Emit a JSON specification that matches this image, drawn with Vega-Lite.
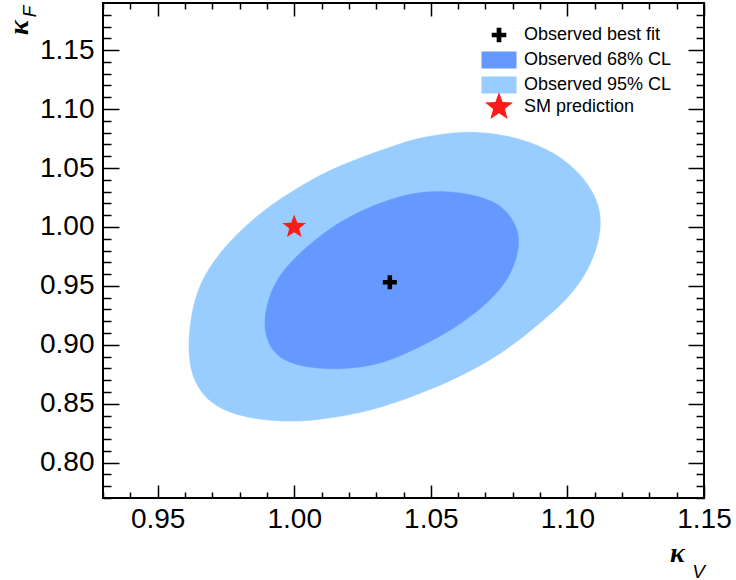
{
  "$schema": "https://vega.github.io/schema/vega-lite/v6.json",
  "width": 601,
  "height": 495,
  "autosize": "none",
  "padding": {"left": 103, "top": 3, "right": 32, "bottom": 82},
  "background": "white",
  "config": {
    "font": "Liberation Sans",
    "view": {"stroke": "black", "strokeWidth": 2},
    "axis": {"grid": false, "domain": false, "labelColor": "black", "titleColor": "black", "tickColor": "black", "tickWidth": 1.5},
    "legend": {"title": null, "padding": 0, "labelFontSize": 18, "labelFont": "Liberation Sans", "labelColor": "black", "labelOffset": 15, "symbolSize": 400, "symbolStrokeWidth": 0, "symbolOpacity": 1, "labelLimit": 300}
  },
  "datasets": {
    "outer": [
      {"kv": 0.9609, "kf": 0.9014, "i": 1},
      {"kv": 0.9631, "kf": 0.9381, "i": 2},
      {"kv": 0.9680, "kf": 0.9636, "i": 3},
      {"kv": 0.9766, "kf": 0.9891, "i": 4},
      {"kv": 0.9887, "kf": 1.0145, "i": 5},
      {"kv": 1.0009, "kf": 1.0330, "i": 6},
      {"kv": 1.0131, "kf": 1.0485, "i": 7},
      {"kv": 1.0253, "kf": 1.0598, "i": 8},
      {"kv": 1.0375, "kf": 1.0697, "i": 9},
      {"kv": 1.0445, "kf": 1.0750, "i": 10},
      {"kv": 1.0558, "kf": 1.0796, "i": 11},
      {"kv": 1.0680, "kf": 1.0812, "i": 12},
      {"kv": 1.0826, "kf": 1.0756, "i": 13},
      {"kv": 1.0960, "kf": 1.0630, "i": 14},
      {"kv": 1.1058, "kf": 1.0430, "i": 15},
      {"kv": 1.1110, "kf": 1.0230, "i": 16},
      {"kv": 1.1124, "kf": 1.0060, "i": 17},
      {"kv": 1.1115, "kf": 0.9863, "i": 18},
      {"kv": 1.1072, "kf": 0.9608, "i": 19},
      {"kv": 1.0999, "kf": 0.9381, "i": 20},
      {"kv": 1.0899, "kf": 0.9182, "i": 21},
      {"kv": 1.0777, "kf": 0.8955, "i": 22},
      {"kv": 1.0655, "kf": 0.8785, "i": 23},
      {"kv": 1.0497, "kf": 0.8615, "i": 24},
      {"kv": 1.0314, "kf": 0.8460, "i": 25},
      {"kv": 1.0168, "kf": 0.8388, "i": 26},
      {"kv": 1.0022, "kf": 0.8345, "i": 27},
      {"kv": 0.9887, "kf": 0.8358, "i": 28},
      {"kv": 0.9766, "kf": 0.8415, "i": 29},
      {"kv": 0.9678, "kf": 0.8528, "i": 30},
      {"kv": 0.9622, "kf": 0.8730, "i": 31}
    ],
    "inner": [
      {"kv": 0.9888, "kf": 0.9212, "i": 1},
      {"kv": 0.9910, "kf": 0.9438, "i": 2},
      {"kv": 0.9958, "kf": 0.9636, "i": 3},
      {"kv": 1.0046, "kf": 0.9836, "i": 4},
      {"kv": 1.0156, "kf": 1.0034, "i": 5},
      {"kv": 1.0278, "kf": 1.0175, "i": 6},
      {"kv": 1.0387, "kf": 1.0260, "i": 7},
      {"kv": 1.0440, "kf": 1.0287, "i": 8},
      {"kv": 1.0546, "kf": 1.0311, "i": 9},
      {"kv": 1.0680, "kf": 1.0266, "i": 10},
      {"kv": 1.0767, "kf": 1.0175, "i": 11},
      {"kv": 1.0816, "kf": 1.0004, "i": 12},
      {"kv": 1.0825, "kf": 0.9863, "i": 13},
      {"kv": 1.0810, "kf": 0.9693, "i": 14},
      {"kv": 1.0767, "kf": 0.9494, "i": 15},
      {"kv": 1.0680, "kf": 0.9294, "i": 16},
      {"kv": 1.0558, "kf": 0.9097, "i": 17},
      {"kv": 1.0436, "kf": 0.8955, "i": 18},
      {"kv": 1.0314, "kf": 0.8828, "i": 19},
      {"kv": 1.0156, "kf": 0.8785, "i": 20},
      {"kv": 1.0022, "kf": 0.8813, "i": 21},
      {"kv": 0.9934, "kf": 0.8898, "i": 22},
      {"kv": 0.9898, "kf": 0.9042, "i": 23}
    ],
    "bestfit": [{"kv": 1.035, "kf": 0.953, "item": "Observed best fit"}],
    "sm": [{"kv": 1.0, "kf": 1.0, "item": "SM prediction"}]
  },
  "resolve": {"axis": {"x": "independent", "y": "independent"}, "scale": {"color": "independent", "shape": "independent"}},
  "layer": [
    {
      "data": {"name": "outer"},
      "mark": {"type": "line", "interpolate": "basis-closed", "fill": "#99ccff", "stroke": "#99ccff", "strokeWidth": 0.5},
      "encoding": {
        "x": {"field": "kv", "type": "quantitative", "scale": {"domain": [0.93, 1.15], "nice": false, "zero": false},
          "axis": {"orient": "bottom", "values": [0.95, 1.0, 1.05, 1.1, 1.15], "format": ".2f", "ticks": false, "labelFontSize": 28, "labelPadding": 7, "labelFlush": false, "labelOverlap": false,
            "title": "κ", "titleFont": "Liberation Serif", "titleFontSize": 28, "titleFontStyle": "italic", "titleFontWeight": "bold", "titleX": 574, "titleY": 63, "titleAlign": "center", "titleBaseline": "alphabetic"}},
        "y": {"field": "kf", "type": "quantitative", "scale": {"domain": [0.77, 1.19], "nice": false, "zero": false},
          "axis": {"orient": "left", "values": [0.8, 0.85, 0.9, 0.95, 1.0, 1.05, 1.1, 1.15], "format": ".2f", "ticks": false, "labelFontSize": 28, "labelPadding": 9, "labelFlush": false, "labelOverlap": false,
            "title": "κ", "titleFont": "Liberation Serif", "titleFontSize": 28, "titleFontStyle": "italic", "titleFontWeight": "bold", "titleAngle": -90, "titleX": -76, "titleY": 24, "titleAlign": "center", "titleBaseline": "alphabetic"}},
        "order": {"field": "i", "type": "quantitative"}
      }
    },
    {
      "data": {"name": "inner"},
      "mark": {"type": "line", "interpolate": "basis-closed", "fill": "#6699ff", "stroke": "#6699ff", "strokeWidth": 0.5},
      "encoding": {
        "x": {"field": "kv", "type": "quantitative", "scale": {"domain": [0.93, 1.15], "nice": false, "zero": false},
          "axis": {"orient": "bottom", "values": [0.95, 1.0, 1.05, 1.1, 1.15], "labels": false, "tickSize": -13,
            "title": "V", "titleFont": "Liberation Sans", "titleFontSize": 19, "titleFontStyle": "italic", "titleFontWeight": "normal", "titleX": 595, "titleY": 79, "titleAlign": "center", "titleBaseline": "alphabetic"}},
        "y": {"field": "kf", "type": "quantitative", "scale": {"domain": [0.77, 1.19], "nice": false, "zero": false},
          "axis": {"orient": "left", "values": [0.8, 0.85, 0.9, 0.95, 1.0, 1.05, 1.1, 1.15], "labels": false, "tickSize": -16,
            "title": "F", "titleFont": "Liberation Sans", "titleFontSize": 19, "titleFontStyle": "italic", "titleFontWeight": "normal", "titleAngle": -90, "titleX": -68, "titleY": 8, "titleAlign": "center", "titleBaseline": "alphabetic"}},
        "order": {"field": "i", "type": "quantitative"}
      }
    },
    {
      "data": {"name": "bestfit"},
      "mark": {"type": "point", "filled": true, "opacity": 1, "size": 368, "strokeWidth": 0},
      "encoding": {
        "x": {"field": "kv", "type": "quantitative", "scale": {"domain": [0.93, 1.15], "nice": false, "zero": false},
          "axis": {"orient": "bottom", "values": [0.93, 0.94, 0.96, 0.97, 0.98, 0.99, 1.01, 1.02, 1.03, 1.04, 1.06, 1.07, 1.08, 1.09, 1.11, 1.12, 1.13, 1.14], "labels": false, "tickSize": -6, "title": null}},
        "y": {"field": "kf", "type": "quantitative", "scale": {"domain": [0.77, 1.19], "nice": false, "zero": false},
          "axis": {"orient": "left", "values": [0.77, 0.78, 0.79, 0.81, 0.82, 0.83, 0.84, 0.86, 0.87, 0.88, 0.89, 0.91, 0.92, 0.93, 0.94, 0.96, 0.97, 0.98, 0.99, 1.01, 1.02, 1.03, 1.04, 1.06, 1.07, 1.08, 1.09, 1.11, 1.12, 1.13, 1.14, 1.16, 1.17, 1.18], "labels": false, "tickSize": -8, "title": null}},
        "color": {"field": "item", "type": "nominal",
          "scale": {"domain": ["Observed best fit", "Observed 68% CL", "Observed 95% CL"], "range": ["#000000", "#6699ff", "#99ccff"]},
          "legend": {"orient": "none", "legendX": 386, "legendY": 22, "rowPadding": 6}},
        "shape": {"field": "item", "type": "nominal",
          "scale": {"domain": ["Observed best fit", "Observed 68% CL", "Observed 95% CL"],
            "range": [
              "M-0.235,-0.73H0.235V-0.235H0.73V0.235H0.235V0.73H-0.235V0.235H-0.73V-0.235H-0.235Z",
              "M-1.75,-0.85H1.75V0.85H-1.75Z",
              "M-1.75,-0.85H1.75V0.85H-1.75Z"
            ]},
          "legend": {"orient": "none", "legendX": 386, "legendY": 22, "rowPadding": 6}}
      }
    },
    {
      "data": {"name": "sm"},
      "mark": {"type": "point", "filled": true, "opacity": 1, "size": 285, "strokeWidth": 0},
      "encoding": {
        "x": {"field": "kv", "type": "quantitative", "scale": {"domain": [0.93, 1.15], "nice": false, "zero": false},
          "axis": {"orient": "top", "values": [0.95, 1.0, 1.05, 1.1, 1.15], "labels": false, "tickSize": -13, "title": null}},
        "y": {"field": "kf", "type": "quantitative", "scale": {"domain": [0.77, 1.19], "nice": false, "zero": false},
          "axis": {"orient": "right", "values": [0.8, 0.85, 0.9, 0.95, 1.0, 1.05, 1.1, 1.15], "labels": false, "tickSize": -16, "title": null}},
        "color": {"field": "item", "type": "nominal",
          "scale": {"domain": ["SM prediction"], "range": ["#ff1a1a"]},
          "legend": {"orient": "none", "legendX": 386, "legendY": 94}},
        "shape": {"field": "item", "type": "nominal",
          "scale": {"domain": ["SM prediction"],
            "range": ["M0,-1.47L0.363,-0.5L1.398,-0.454L0.588,0.191L0.864,1.189L0,0.618L-0.864,1.189L-0.588,0.191L-1.398,-0.454L-0.363,-0.5Z"]},
          "legend": {"orient": "none", "legendX": 386, "legendY": 94}}
      }
    },
    {
      "mark": {"type": "text", "text": "ATLAS", "font": "Liberation Sans", "fontSize": 30, "fontStyle": "italic", "fontWeight": "bold", "align": "left", "baseline": "alphabetic", "color": "black"},
      "encoding": {
        "x": {"datum": 0.9502, "type": "quantitative", "scale": {"domain": [0.93, 1.15], "nice": false, "zero": false},
          "axis": {"orient": "top", "values": [0.93, 0.94, 0.96, 0.97, 0.98, 0.99, 1.01, 1.02, 1.03, 1.04, 1.06, 1.07, 1.08, 1.09, 1.11, 1.12, 1.13, 1.14], "labels": false, "tickSize": -6, "title": null}},
        "y": {"datum": 1.1444, "type": "quantitative", "scale": {"domain": [0.77, 1.19], "nice": false, "zero": false},
          "axis": {"orient": "right", "values": [0.77, 0.78, 0.79, 0.81, 0.82, 0.83, 0.84, 0.86, 0.87, 0.88, 0.89, 0.91, 0.92, 0.93, 0.94, 0.96, 0.97, 0.98, 0.99, 1.01, 1.02, 1.03, 1.04, 1.06, 1.07, 1.08, 1.09, 1.11, 1.12, 1.13, 1.14, 1.16, 1.17, 1.18], "labels": false, "tickSize": -8, "title": null}}
      }
    },
    {
      "mark": {"type": "text", "text": "Run 2", "font": "Liberation Sans", "fontSize": 29, "align": "left", "baseline": "alphabetic", "color": "black"},
      "encoding": {
        "x": {"datum": 0.9941, "type": "quantitative", "scale": {"domain": [0.93, 1.15], "nice": false, "zero": false}, "axis": null},
        "y": {"datum": 1.1444, "type": "quantitative", "scale": {"domain": [0.77, 1.19], "nice": false, "zero": false}, "axis": null}
      }
    }
  ]
}
